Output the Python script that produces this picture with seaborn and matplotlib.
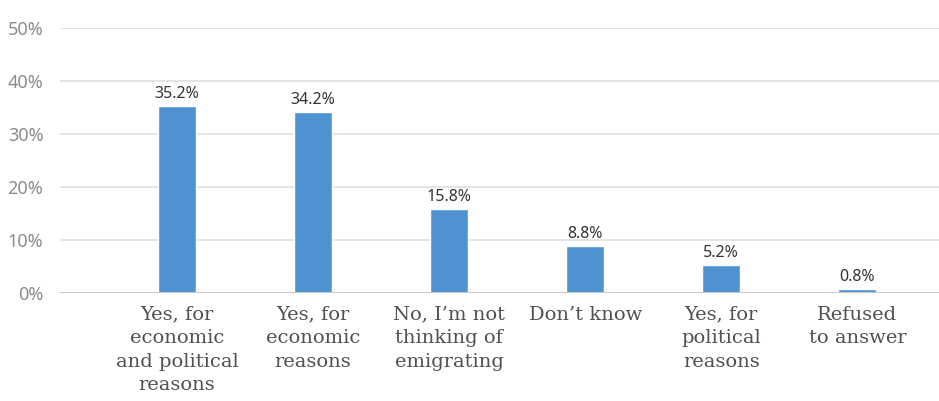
import matplotlib
matplotlib.use("Agg")
import matplotlib.pyplot as plt
import seaborn as sns
import pandas as pd

categories = [
    "Yes, for\neconomic\nand political\nreasons",
    "Yes, for\neconomic\nreasons",
    "No, I\u2019m not\nthinking of\nemigrating",
    "Don\u2019t know",
    "Yes, for\npolitical\nreasons",
    "Refused\nto answer",
]
values = [35.2, 34.2, 15.8, 8.8, 5.2, 0.8]
y_ticks = [0, 10, 20, 30, 40, 50]

df = pd.DataFrame({"answer": categories, "share": values})

sns.set_theme(style="white")
plt.rcParams["font.family"] = ["Noto Sans", "DejaVu Sans"]

fig = plt.figure(figsize=(9.39, 4.01), dpi=100)
ax = fig.add_axes([60 / 939, 1 - 293 / 401, 879 / 939, 265 / 401])

sns.barplot(data=df, x="answer", y="share", color="#4f92d1", saturation=1,
            width=0.28, ax=ax)

ax.set_xlim(-0.86, 5.60)
ax.set_ylim(0, 50)
ax.set_yticks(y_ticks)
ax.set_yticklabels([f"{t}%" for t in y_ticks])
ax.grid(axis="y", color="#dcdcdc", linewidth=1.1)
ax.set_axisbelow(True)
for s in ax.spines.values():
    s.set_visible(False)
ax.axhline(0, color="#c8c8c8", linewidth=1.4, zorder=1)

ax.tick_params(axis="y", length=0, pad=12, labelsize=13, labelcolor="#8c8c8c")
ax.tick_params(axis="x", length=0, pad=9)
for lab in ax.get_xticklabels():
    lab.set_family("DejaVu Serif")
    lab.set_fontsize(14)
    lab.set_color("#505050")
    lab.set_linespacing(1.4)

ax.bar_label(ax.containers[0], fmt="%.1f%%", padding=3, fontsize=11.5,
             color="#333333")
ax.set_xlabel("")
ax.set_ylabel("")

fig.savefig("out.png", dpi=100)
